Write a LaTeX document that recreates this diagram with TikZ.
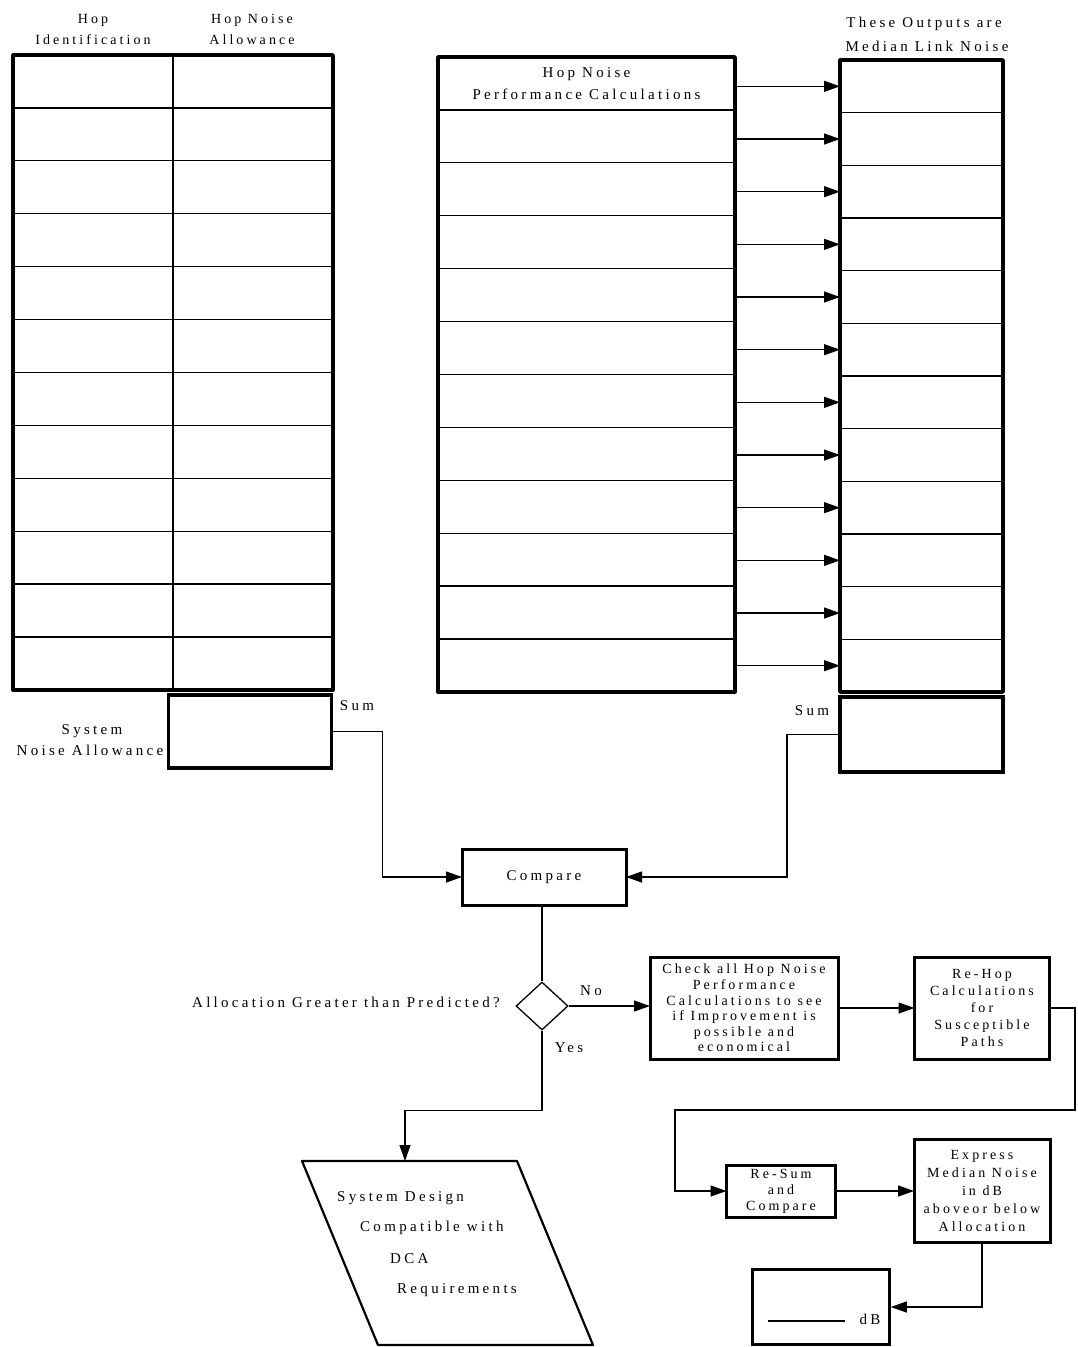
\documentclass[tikz,border=0pt]{standalone}
\usepackage{fontspec}
\setmainfont{Liberation Serif}[LetterSpace=22]
\usetikzlibrary{arrows.meta,shapes.geometric,calc}

\begin{document}
\begin{tikzpicture}[x=1pt,y=-1pt,
  font=\fontsize{15}{17}\selectfont,
  cell/.style={draw, line width=1.2pt, inner sep=0pt, outer sep=0pt},
  outline/.style={line width=3.6pt, line join=round},
  sumbox/.style={draw, line width=3.6pt, inner sep=0pt, outer sep=0pt},
  link/.style={line width=1.3pt},
  conn/.style={line width=1.3pt, -{Triangle[length=16pt,width=11pt]}},
  procbox/.style={draw, line width=3pt, inner sep=0pt, outer sep=0pt,
    align=center, font=\fontsize{14}{15.6}\selectfont},
  lbl/.style={inner sep=0pt, align=center}]

\useasboundingbox (0,0) rectangle (1077,1347);

% ---- left table: hop identification / allowance ----
\foreach \i in {1,...,12} {
  \node[cell, minimum width=160pt, minimum height=52.9pt] (L\i) at (93,{55+52.9*(\i-0.5)}) {};
  \node[cell, minimum width=160pt, minimum height=52.9pt] (A\i) at (253,{55+52.9*(\i-0.5)}) {};
}
\draw[outline] (L1.north west) rectangle (A12.south east);
\node[sumbox, minimum width=163pt, minimum height=73pt] (SL) at (250,731.5) {};
\draw[line width=1.2pt] (SL.north west) ++(0,-5) -- ++(163,0);

\node[lbl, font=\fontsize{14}{16}\selectfont] (hL1) at (93,20) {Hop};
\node[lbl, font=\fontsize{14}{16}\selectfont] (hL2) at (93,40) {Identification};
\node[lbl, font=\fontsize{14}{16}\selectfont] (hA1) at (252,20) {Hop Noise};
\node[lbl, font=\fontsize{14}{16}\selectfont] (hA2) at (252,40) {Allowance};
\node[lbl] (sys1) at (92,731) {System};
\node[lbl] (sys2) at (90,750) {Noise Allowance};
\node[lbl] (sumL) at (357,706) {Sum};

% ---- middle table: performance calculations ----
\node[cell, minimum width=297pt, minimum height=52.9pt, align=center,
      font=\fontsize{15}{22}\selectfont] (M1) at (586.5,{57+52.9*0.5})
      {Hop Noise\\Performance Calculations};
\foreach \i in {2,...,12} {
  \node[cell, minimum width=297pt, minimum height=52.9pt] (M\i) at (586.5,{57+52.9*(\i-0.5)}) {};
}
\draw[outline] (M1.north west) rectangle (M12.south east);

% ---- right table: median link noise ----
\foreach \i in {1,...,12} {
  \node[cell, minimum width=163pt, minimum height=52.67pt] (R\i) at (921.5,{60+52.67*(\i-0.5)}) {};
}
\draw[outline] (R1.north west) rectangle (R12.south east);
\node[sumbox, minimum width=163pt, minimum height=75pt] (SR) at (921.5,734.5) {};
\draw[line width=1.2pt] (SR.north west) ++(0,-5) -- ++(163,0);

\node[lbl] (hR1) at (924,24) {These Outputs are};
\node[lbl] (hR2) at (927,46) {Median Link Noise};
\node[lbl] (sumR) at (812,711) {Sum};

% row outputs
\foreach \i in {1,...,12} {
  \draw[conn] (M\i.east |- R\i.west) -- (R\i.west);
}

% ---- comparison and decision ----
\node[procbox, minimum width=164pt, minimum height=56pt, font=\fontsize{15}{17}\selectfont] (cmp) at (544,877) {Compare};
\draw[conn] (SL.east) -- ++(51,0) |- (cmp.west);
\draw[conn] (SR.west) -- ++(-53,0) |- (cmp.east);

\node[draw, diamond, line width=1.3pt, inner sep=0pt, minimum width=52pt, minimum height=48pt] (dia) at (542,1006) {};
\draw[link] (dia.north |- cmp.south) -- (dia.north);
\node[lbl, anchor=east] (q) at (500,1002) {Allocation Greater than Predicted?};
\node[lbl] (no) at (591,991) {No};
\node[lbl] (yes) at (569,1048) {Yes};

\node[procbox, minimum width=188pt, minimum height=102pt] (check) at (744,1008)
  {Check all Hop Noise\\Performance\\Calculations to see\\if Improvement is\\possible and\\economical};
\node[procbox, minimum width=135pt, minimum height=102pt, font=\fontsize{14}{17}\selectfont] (rehop) at (982,1008)
  {Re-Hop\\Calculations\\for\\Susceptible\\Paths};
\draw[conn] (dia.east) -- (dia.east -| check.west);
\draw[conn] (check.east) -- (rehop.west);

\node[procbox, minimum width=109pt, minimum height=52pt, font=\fontsize{14}{16}\selectfont] (resum) at (781,1191)
  {Re-Sum\\and\\Compare};
\node[procbox, minimum width=136pt, minimum height=103pt, font=\fontsize{14}{18}\selectfont] (express) at (982,1191)
  {Express\\Median Noise\\in dB\\aboveor below\\Allocation};
\coordinate (loopR) at (1075,1110);
\coordinate (loopL) at (675,1110);
\draw[conn] (rehop.east) -| (loopR) -- (loopL) |- (resum.west);
\draw[conn] (resum.east) -- (express.west);

\node[draw, line width=2.5pt, minimum width=137pt, minimum height=75pt, inner sep=0pt] (db) at (821,1307) {};
\draw[line width=1.1pt] (768,1321) -- (845,1321);
\node[lbl] (dbunit) at (870,1319) {dB};
\draw[conn] (express.south) |- (db.east);

% ---- outcome: compatible design ----
\coordinate (pgtl) at (302,1161);
\coordinate (pgtr) at (517,1161);
\coordinate (pgbr) at (593,1345);
\coordinate (pgbl) at (378,1345);
\coordinate (pgtop) at (405,1161);
\draw[line width=2.2pt, line join=round] (pgtl) -- (pgtr) -- (pgbr) -- (pgbl) -- cycle;
\node[lbl, anchor=west] (o1) at (337,1198) {System Design};
\node[lbl, anchor=west] (o2) at (360,1228) {Compatible with};
\node[lbl, anchor=west] (o3) at (390,1259) {DCA};
\node[lbl, anchor=west] (o4) at (397,1290) {Requirements};
\draw[conn] (dia.south) -- ++(0,80) -| (pgtop);

\end{tikzpicture}
\end{document}
